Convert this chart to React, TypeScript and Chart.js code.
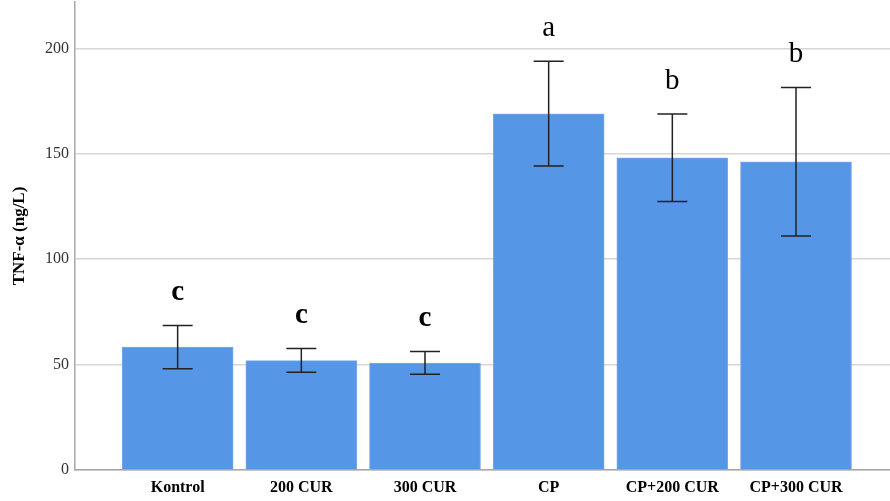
import React, { useEffect, useRef } from 'react';
import { Chart, registerables } from 'chart.js';
Chart.register(...registerables);

const categories = ['Kontrol', '200 CUR', '300 CUR', 'CP', 'CP+200 CUR', 'CP+300 CUR'];
const means = [58.3, 51.9, 50.7, 168.9, 148.1, 146.2];
const errLow = [48.0, 46.4, 45.4, 144.2, 127.4, 111.0];
const errHigh = [68.5, 57.6, 56.2, 193.9, 168.9, 181.5];
const letters = ['c', 'c', 'c', 'a', 'b', 'b'];
const letterBold = [true, true, true, false, false, false];
const yTicks = [0, 50, 100, 150, 200];

const SERIF = '"Liberation Serif", "Times New Roman", serif';

const errorBarPlugin = {
  id: 'errorBars',
  afterDatasetsDraw(chart: any) {
    const { ctx } = chart;
    const xs = chart.scales.x;
    const ys = chart.scales.y;
    ctx.save();
    ctx.strokeStyle = '#222';
    ctx.lineWidth = 1.5;
    categories.forEach((_, i) => {
      const x = xs.getPixelForValue(i);
      const yl = ys.getPixelForValue(errLow[i]);
      const yh = ys.getPixelForValue(errHigh[i]);
      ctx.beginPath();
      ctx.moveTo(x, yl);
      ctx.lineTo(x, yh);
      ctx.moveTo(x - 15, yl);
      ctx.lineTo(x + 15, yl);
      ctx.moveTo(x - 15, yh);
      ctx.lineTo(x + 15, yh);
      ctx.stroke();
      ctx.fillStyle = '#000';
      ctx.font = `${letterBold[i] ? 'bold ' : ''}29px ${SERIF}`;
      ctx.textAlign = 'center';
      ctx.textBaseline = 'middle';
      ctx.fillText(letters[i], x, yh - 33);
    });
    ctx.restore();
  },
};

export default function App() {
  const ref = useRef<HTMLCanvasElement>(null);
  useEffect(() => {
    if (!ref.current) return;
    const chart = new Chart(ref.current, {
      type: 'bar',
      data: {
        datasets: [
          {
            data: means.map((v, i) => ({ x: i, y: v })),
            backgroundColor: '#5596e6',
            borderColor: '#78aaeb',
            borderWidth: 1,
            barThickness: 111,
          },
        ],
      },
      options: {
        animation: false,
        responsive: false,
        devicePixelRatio: 1,
        layout: { padding: { top: 2, left: 0, right: 0, bottom: 0 } },
        plugins: { legend: { display: false }, tooltip: { enabled: false } },
        scales: {
          x: {
            type: 'linear',
            offset: false,
            min: -0.83,
            max: 5.76,
            afterBuildTicks: (scale: any) => {
              scale.ticks = categories.map((_, i) => ({ value: i }));
            },
            afterFit: (scale: any) => {
              scale.height = 31;
              scale.paddingLeft = 0;
              scale.paddingRight = 0;
            },
            grid: { display: false, drawTicks: false },
            border: { color: '#a8a8a8', width: 1.5 },
            ticks: {
              autoSkip: false,
              maxRotation: 0,
              padding: 8,
              color: '#000',
              font: { family: SERIF, size: 16, weight: 'bold' },
              callback: (v: any) => categories[v] ?? '',
            },
          },
          y: {
            min: 0,
            max: 222,
            afterBuildTicks: (scale: any) => {
              scale.ticks = yTicks.map((v) => ({ value: v }));
            },
            afterFit: (scale: any) => {
              scale.width = 75;
              scale.paddingTop = 0;
              scale.paddingBottom = 0;
            },
            grid: { color: '#d6d6d6', lineWidth: 1.5, drawTicks: false },
            border: { color: '#a8a8a8', width: 1.5 },
            ticks: {
              padding: 6,
              color: '#333',
              font: { family: SERIF, size: 16 },
            },
            title: {
              display: true,
              text: 'TNF-α (ng/L)',
              color: '#000',
              font: { family: SERIF, size: 17, weight: 'bold' },
              padding: { top: 9, bottom: 0 },
            },
          },
        },
      },
      plugins: [errorBarPlugin],
    } as any);
    return () => chart.destroy();
  }, []);
  return (
    <div style={{ position: 'absolute', left: 0, top: 0, width: 890, height: 501, background: '#fff' }}>
      <canvas ref={ref} width={890} height={501} />
    </div>
  );
}
